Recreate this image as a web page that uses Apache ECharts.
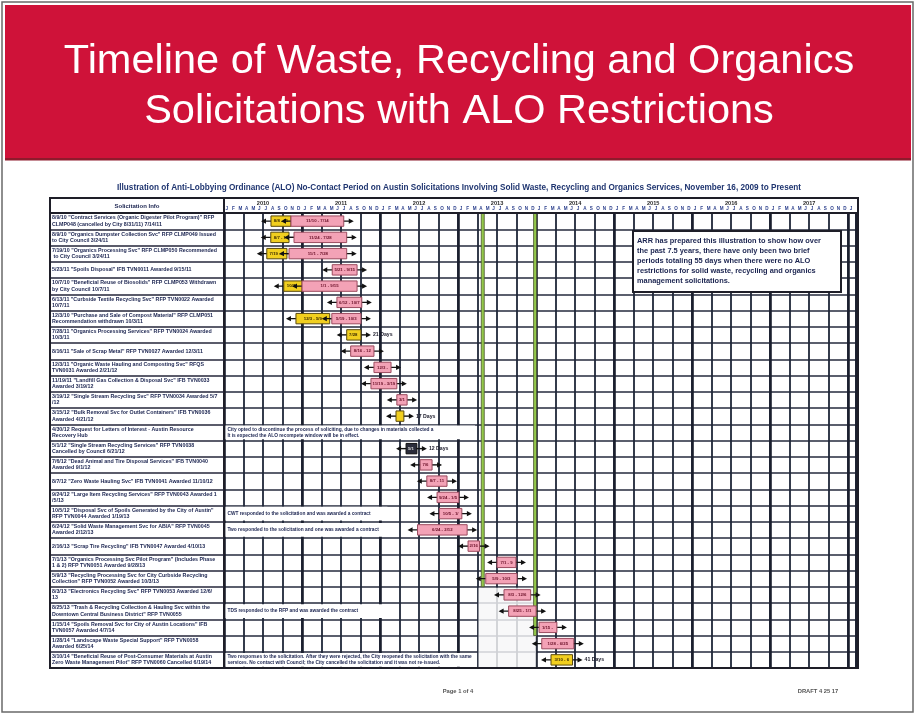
<!DOCTYPE html>
<html><head><meta charset="utf-8">
<script src="https://cdn.jsdelivr.net/npm/echarts@6/dist/echarts.min.js"></script>
<style>html,body{margin:0;padding:0;background:#fff}#c{width:916px;height:715px}</style>
</head><body><div id="c"></div>
<script>
// ---------------- DATA ----------------
const solicitations = [
  '8/9/10 "Contract Services (Organic Digester Pilot Program)" RFP CLMP048 (cancelled by City 8/31/11) 7/14/11',
  '8/9/10 "Organics Dumpster Collection Svc" RFP CLMP049 Issued to City Council 3/24/11',
  '7/19/10 "Organics Processing Svc" RFP CLMP050 Recommended to City Council 3/24/11',
  '5/23/11 "Spoils Disposal" IFB TVN0011 Awarded 9/15/11',
  '10/7/10 "Beneficial Reuse of Biosolids" RFP CLMP053 Withdrawn by City Council 10/7/11',
  '6/13/11 "Curbside Textile Recycling Svc" RFP TVN0022 Awarded 10/7/11',
  '12/3/10 "Purchase and Sale of Compost Material" RFP CLMP051 Recommendation withdrawn 10/3/11',
  '7/28/11 "Organics Processing Services" RFP TVN0024 Awarded 10/3/11',
  '8/16/11 "Sale of Scrap Metal" RFP TVN0027 Awarded 12/3/11',
  '12/3/11 "Organic Waste Hauling and Composting Svc" RFQS TVN0031 Awarded 2/21/12',
  '11/19/11 "Landfill Gas Collection & Disposal Svc" IFB TVN0033 Awarded 3/19/12',
  '3/19/12 "Single Stream Recycling Svc" RFP TVN0034 Awarded 5/7/12',
  '3/15/12 "Bulk Removal Svc for Outlet Containers" IFB TVN0036 Awarded 4/21/12',
  '4/30/12 Request for Letters of Interest - Austin Resource Recovery Hub',
  '5/1/12 "Single Stream Recycling Services" RFP TVN0038 Cancelled by Council 6/21/12',
  '7/6/12 "Dead Animal and Tire Disposal Services" IFB TVN0040 Awarded 9/1/12',
  '8/7/12 "Zero Waste Hauling Svc" IFB TVN0041 Awarded 11/10/12',
  '9/24/12 "Large Item Recycling Services" RFP TVN0043 Awarded 1/5/13',
  '10/5/12 "Disposal Svc of Spoils Generated by the City of Austin" RFP TVN0044 Awarded 1/19/13',
  '6/24/12 "Solid Waste Management Svc for ABIA" RFP TVN0045 Awarded 2/12/13',
  '2/16/13 "Scrap Tire Recycling" IFB TVN0047 Awarded 4/10/13',
  '7/1/13 "Organics Processing Svc Pilot Program" (Includes Phase 1 & 2) RFP TVN0051 Awarded 9/28/13',
  '5/9/13 "Recycling Processing Svc for City Curbside Recycling Collection" RFP TVN0052 Awarded 10/3/13',
  '8/3/13 "Electronics Recycling Svc" RFP TVN0053 Awarded 12/6/13',
  '8/25/13 "Trash & Recycling Collection & Hauling Svc within the Downtown Central Business District" RFP TVN0055',
  '1/15/14 "Spoils Removal Svc for City of Austin Locations" IFB TVN0057 Awarded 4/7/14',
  '1/28/14 "Landscape Waste Special Support" RFP TVN0058 Awarded 6/25/14',
  '3/10/14 "Beneficial Reuse of Post-Consumer Materials at Austin Zero Waste Management Pilot" RFP TVN0060 Cancelled 6/19/14'
];
const yellowStart = ['2010-08-08','2010-08-07','2010-07-19',null,'2010-10-07',null,'2010-12-03','2011-07-28',null,null,null,null,'2012-03-15',null,null,null,null,null,null,null,null,null,null,null,null,null,null,'2014-03-10'];
const yellowEnd   = ['2010-11-10','2010-11-01','2010-10-22',null,'2011-01-01',null,'2011-05-09','2011-10-03',null,null,null,null,'2012-04-21',null,null,null,null,null,null,null,null,null,null,null,null,null,null,'2014-06-19'];
const pinkStart = ['2010-11-10','2010-11-24','2010-11-01','2011-05-21','2011-01-01','2011-06-12','2011-05-19',null,'2011-08-16','2011-12-03','2011-11-19','2012-03-19',null,null,null,'2012-07-06','2012-08-07','2012-09-24','2012-10-05','2012-06-24','2013-02-16','2013-07-01','2013-05-09','2013-08-03','2013-08-25','2014-01-15','2014-01-28',null];
const pinkEnd   = ['2011-07-14','2011-07-28','2011-07-28','2011-09-15','2011-09-15','2011-10-07','2011-10-03',null,'2011-12-03','2012-02-21','2012-03-19','2012-05-06',null,null,null,'2012-09-01','2012-11-10','2013-01-05','2013-01-19','2013-02-12','2013-04-10','2013-09-28','2013-10-03','2013-12-06','2014-01-01','2014-04-07','2014-06-25',null];
const darkStart = [null,null,null,null,null,null,null,null,null,null,null,null,null,null,'2012-05-01',null,null,null,null,null,null,null,null,null,null,null,null,null];
const darkEnd   = [null,null,null,null,null,null,null,null,null,null,null,null,null,null,'2012-06-21',null,null,null,null,null,null,null,null,null,null,null,null,null];
const dayLabels = ['','','','','','','','21 Days','','','','','17 Days','','12 Days','','','','','','','','','','','','','41 Days'];
const notes = ['','','','','','','','','','','','','',
  'City opted to discontinue the process of soliciting, due to changes in materials collected and information available.\nIt is expected the ALO recompete window will be in effect.',
  '','','','',
  'CWT responded to the solicitation and was awarded a contract',
  'Two responded to the solicitation and one was awarded a contract',
  '','','','',
  'TDS responded to the RFP and was awarded the contract',
  '','',
  'Two responses to the solicitation. After they were rejected, the City reopened the solicitation with the same\nservices. No contact with Council; the City cancelled the solicitation and it was not re-issued.'];
const noteEnd = [0,0,0,0,0,0,0,0,0,0,0,0,0,'2013-03-20',0,0,0,0,'2012-02-05','2012-02-05',0,0,0,0,'2012-02-05',0,0,'2013-03-25'];
const years = [2010,2011,2012,2013,2014,2015,2016,2017];
const monthLetters = ['J','F','M','A','M','J','J','A','S','O','N','D'];
const openStart = ['2013-04-18','2013-12-20'];
const openEnd   = ['2013-05-01','2014-01-01'];
const openLastRow = [22, 25];
const patchStart = ['2013-04-05'], patchEnd = ['2014-01-01'], patchRows = [[23,27]];

// ---------------- HELPERS ----------------
function toM(d){ const p=d.split('-').map(Number); const dim=new Date(p[0],p[1],0).getDate(); return (p[0]-2010)*12+(p[1]-1)+(p[2]-1)/dim; }
function fmt(d){ const p=d.split('-').map(Number); return p[1]+'/'+p[2]; }
const FONT='"Liberation Sans", Arial, sans-serif';
const AXMAX = 97.2;
const navy = '#1b2450';

function barsRender(params, api){
  const i = params.dataIndex;
  const rowH = api.size([0,1])[1];
  const cy = api.coord([0,i])[1];
  const h = rowH*0.64;
  const ch = [];
  function seg(s,e,fill,stroke,tc){
    const x0 = api.coord([toM(s),i])[0], x1 = api.coord([toM(e),i])[0];
    ch.push({type:'line',shape:{x1:x0-8,y1:cy,x2:x1+8,y2:cy},style:{stroke:'#111',lineWidth:1.4}});
    ch.push({type:'polygon',shape:{points:[[x0-10,cy],[x0-5,cy-2.6],[x0-5,cy+2.6]]},style:{fill:'#111'}});
    ch.push({type:'polygon',shape:{points:[[x1+10,cy],[x1+5,cy-2.6],[x1+5,cy+2.6]]},style:{fill:'#111'}});
    ch.push({type:'rect',shape:{x:x0,y:cy-h/2,width:Math.max(x1-x0,3),height:h},style:{fill:fill,stroke:stroke,lineWidth:1}});
    if (x1-x0>9) ch.push({type:'text',style:{text:fmt(s)+' - '+fmt(e),x:(x0+x1)/2,y:cy,align:'center',verticalAlign:'middle',fill:tc,font:'bold 4.3px '+FONT,width:x1-x0-2,overflow:'truncate',ellipsis:''}});
    return x1;
  }
  let endX = null;
  if (yellowStart[i]) endX = seg(yellowStart[i], yellowEnd[i], '#f1cf1f', '#5a4a10', '#3a2a00');
  if (pinkStart[i]) endX = seg(pinkStart[i], pinkEnd[i], '#f3a2b6', '#9b4a5e', '#6a1028');
  if (darkStart[i]) endX = seg(darkStart[i], darkEnd[i], '#2a2c3a', '#111', '#ddd');
  if (dayLabels[i] && endX!==null) ch.push({type:'text',style:{text:dayLabels[i],x:endX+12,y:cy,align:'left',verticalAlign:'middle',fill:'#1a1a2a',font:'bold 5.2px '+FONT}});
  return {type:'group',children:ch};
}
function notesRender(params, api){
  const i = params.dataIndex;
  if (!notes[i]) return null;
  const rowH = api.size([0,1])[1];
  const cy = api.coord([0,i])[1];
  const x0 = api.coord([0,i])[0]+1.5, x1 = api.coord([toM(noteEnd[i]),i])[0];
  return {type:'group',children:[
    {type:'rect',shape:{x:x0,y:cy-rowH/2+1.2,width:x1-x0,height:rowH-2.4},style:{fill:'#fff'}},
    {type:'text',style:{text:notes[i],x:x0+2,y:cy,align:'left',verticalAlign:'middle',fill:navy,font:'bold 4.8px '+FONT,width:x1-x0-4,overflow:'truncate',ellipsis:'',lineHeight:6}}
  ]};
}
function openRender(params, api){
  const i = params.dataIndex;
  const rowH = api.size([0,1])[1];
  const top = api.coord([0,0])[1]-rowH/2;
  const bot = api.coord([0,openLastRow[i]])[1]+rowH/2;
  const x0 = api.coord([toM(openStart[i]),0])[0], x1 = api.coord([toM(openEnd[i]),0])[0];
  return {type:'rect',shape:{x:x0,y:top,width:Math.max(x1-x0,3),height:bot-top},style:{fill:'#93c84a',stroke:'#4a5630',lineWidth:0.8}};
}
function patchRender(params, api){
  const i = params.dataIndex;
  const rowH = api.size([0,1])[1];
  const top = api.coord([0,patchRows[i][0]])[1]-rowH/2;
  const bot = api.coord([0,patchRows[i][1]])[1]+rowH/2;
  const x0 = api.coord([toM(patchStart[i]),0])[0], x1 = api.coord([toM(patchEnd[i]),0])[0];
  return {type:'rect',shape:{x:x0,y:top+1,width:x1-x0,height:bot-top-2},style:{fill:'rgba(246,246,248,0.82)'}};
}
function yearRender(params, api){
  const i = params.dataIndex;
  const rowH = api.size([0,1])[1];
  const top = api.coord([0,0])[1]-rowH/2;
  const x = api.coord([(years[i]-2010)*12+6,0])[0];
  return {type:'text',style:{text:String(years[i]),x:x,y:top-9.5,align:'center',verticalAlign:'middle',fill:'#2a2a2a',font:'bold 5.6px '+FONT}};
}

// ---------------- CHART ----------------
const chart = echarts.init(document.getElementById('c'), null, {renderer:'canvas'});
const gridLeft = 224, gridTop = 213;
chart.setOption({
  backgroundColor:'#ffffff',
  animation:false,
  textStyle:{fontFamily:FONT},
  grid:{left:gridLeft, right:60, top:gridTop, bottom:47, show:false},
  xAxis:[
    {type:'value',min:0,max:AXMAX,interval:1,position:'top',axisLine:{show:false},axisTick:{show:false},splitLine:{show:false},
     axisLabel:{show:true,margin:2,fontSize:4.6,fontWeight:'bold',color:'#2b3f8c',align:'left',padding:[0,0,0,1.6],
       formatter:v=>Number.isInteger(v)&&v<97?monthLetters[v%12]:''}},
    {type:'value',min:0,max:AXMAX,interval:3,position:'top',axisLine:{show:false},axisTick:{show:false},axisLabel:{show:false},
     splitLine:{show:true,lineStyle:{color:'#1f2638',width:1.8}}},
    {type:'value',min:0,max:AXMAX,interval:12,position:'top',axisLine:{show:false},axisTick:{show:false},axisLabel:{show:false},
     splitLine:{show:true,lineStyle:{color:'#1a1f2e',width:2.6}}}
  ],
  yAxis:{type:'category',inverse:true,data:solicitations,
    axisLine:{show:true,lineStyle:{color:'#1e1e28',width:2}},
    axisTick:{show:true,length:174,lineStyle:{color:'#25263a',width:1.6}},
    splitLine:{show:true,lineStyle:{color:'#252a3c',width:1.7}},
    axisLabel:{interval:0,align:'left',margin:172,width:166,overflow:'break',fontSize:5.3,lineHeight:6.2,fontWeight:'bold',color:navy}},
  series:[
    {type:'custom',name:'patch',xAxisIndex:1,clip:false,z:2,renderItem:patchRender,data:patchStart.map((s,i)=>[toM(s),patchRows[i][0]])},
    {type:'custom',name:'notes',xAxisIndex:1,clip:false,z:3,renderItem:notesRender,data:solicitations.map((s,i)=>[0,i])},
    {type:'custom',name:'open',xAxisIndex:1,clip:false,z:4,renderItem:openRender,data:openStart.map((s,i)=>[toM(s),0])},
    {type:'custom',name:'bars',xAxisIndex:1,clip:false,z:5,renderItem:barsRender,data:solicitations.map((s,i)=>[0,i])},
    {type:'custom',name:'years',xAxisIndex:1,clip:false,z:5,renderItem:yearRender,data:years.map((y,i)=>[(y-2010)*12+6,0])}
  ],
  graphic:[
    {type:'rect',z:0,shape:{x:2,y:2,width:911,height:710},style:{fill:'none',stroke:'#6a6a6a',lineWidth:1.5}},
    {type:'rect',z:1,shape:{x:5,y:5,width:906,height:155},style:{fill:'#cf1239'}},
    {type:'rect',z:1,shape:{x:5,y:158,width:906,height:2.5},style:{fill:'#8e1a2c'}},
    {type:'text',z:2,style:{text:'Timeline of Waste, Recycling and Organics',x:459,y:62,align:'center',verticalAlign:'middle',fill:'#ffffff',font:'41.5px '+FONT}},
    {type:'text',z:2,style:{text:'Solicitations with ALO Restrictions',x:459,y:112,align:'center',verticalAlign:'middle',fill:'#ffffff',font:'41.5px '+FONT}},
    {type:'text',z:2,style:{text:'Illustration of Anti-Lobbying Ordinance (ALO) No-Contact Period on Austin Solicitations Involving Solid Waste, Recycling and Organics Services, November 16, 2009 to Present',x:459,y:188,align:'center',verticalAlign:'middle',fill:'#1f3570',font:'bold 8.2px '+FONT}},
    {type:'rect',z:20,shape:{x:50,y:198,width:808,height:470},style:{fill:'none',stroke:'#1e1e28',lineWidth:2}},
    {type:'line',z:20,shape:{x1:50,y1:213,x2:858,y2:213},style:{stroke:'#1e1e28',lineWidth:2}},
    {type:'line',z:20,shape:{x1:224,y1:198,x2:224,y2:213},style:{stroke:'#1e1e28',lineWidth:2}},
    {type:'text',z:20,style:{text:'Solicitation Info',x:137,y:206,align:'center',verticalAlign:'middle',fill:navy,font:'bold 6px '+FONT}},
    {type:'rect',z:30,shape:{x:633,y:231,width:208,height:61},style:{fill:'#ffffff',stroke:'#1e1e28',lineWidth:2}},
    {type:'text',z:31,style:{text:'ARR has prepared this illustration to show how over\nthe past 7.5 years, there have only been two brief\nperiods totaling 55 days when there were no ALO\nrestrictions for solid waste, recycling and organics\nmanagement solicitations.',x:637,y:236,align:'left',verticalAlign:'top',fill:navy,font:'bold 7.4px '+FONT,lineHeight:10}},
    {type:'text',z:2,style:{text:'Page 1 of 4',x:458,y:691,align:'center',verticalAlign:'middle',fill:'#555',font:'bold 5.8px '+FONT}},
    {type:'text',z:2,style:{text:'DRAFT 4 25 17',x:818,y:691,align:'center',verticalAlign:'middle',fill:'#555',font:'bold 5.8px '+FONT}}
  ]
});
</script></body></html>
